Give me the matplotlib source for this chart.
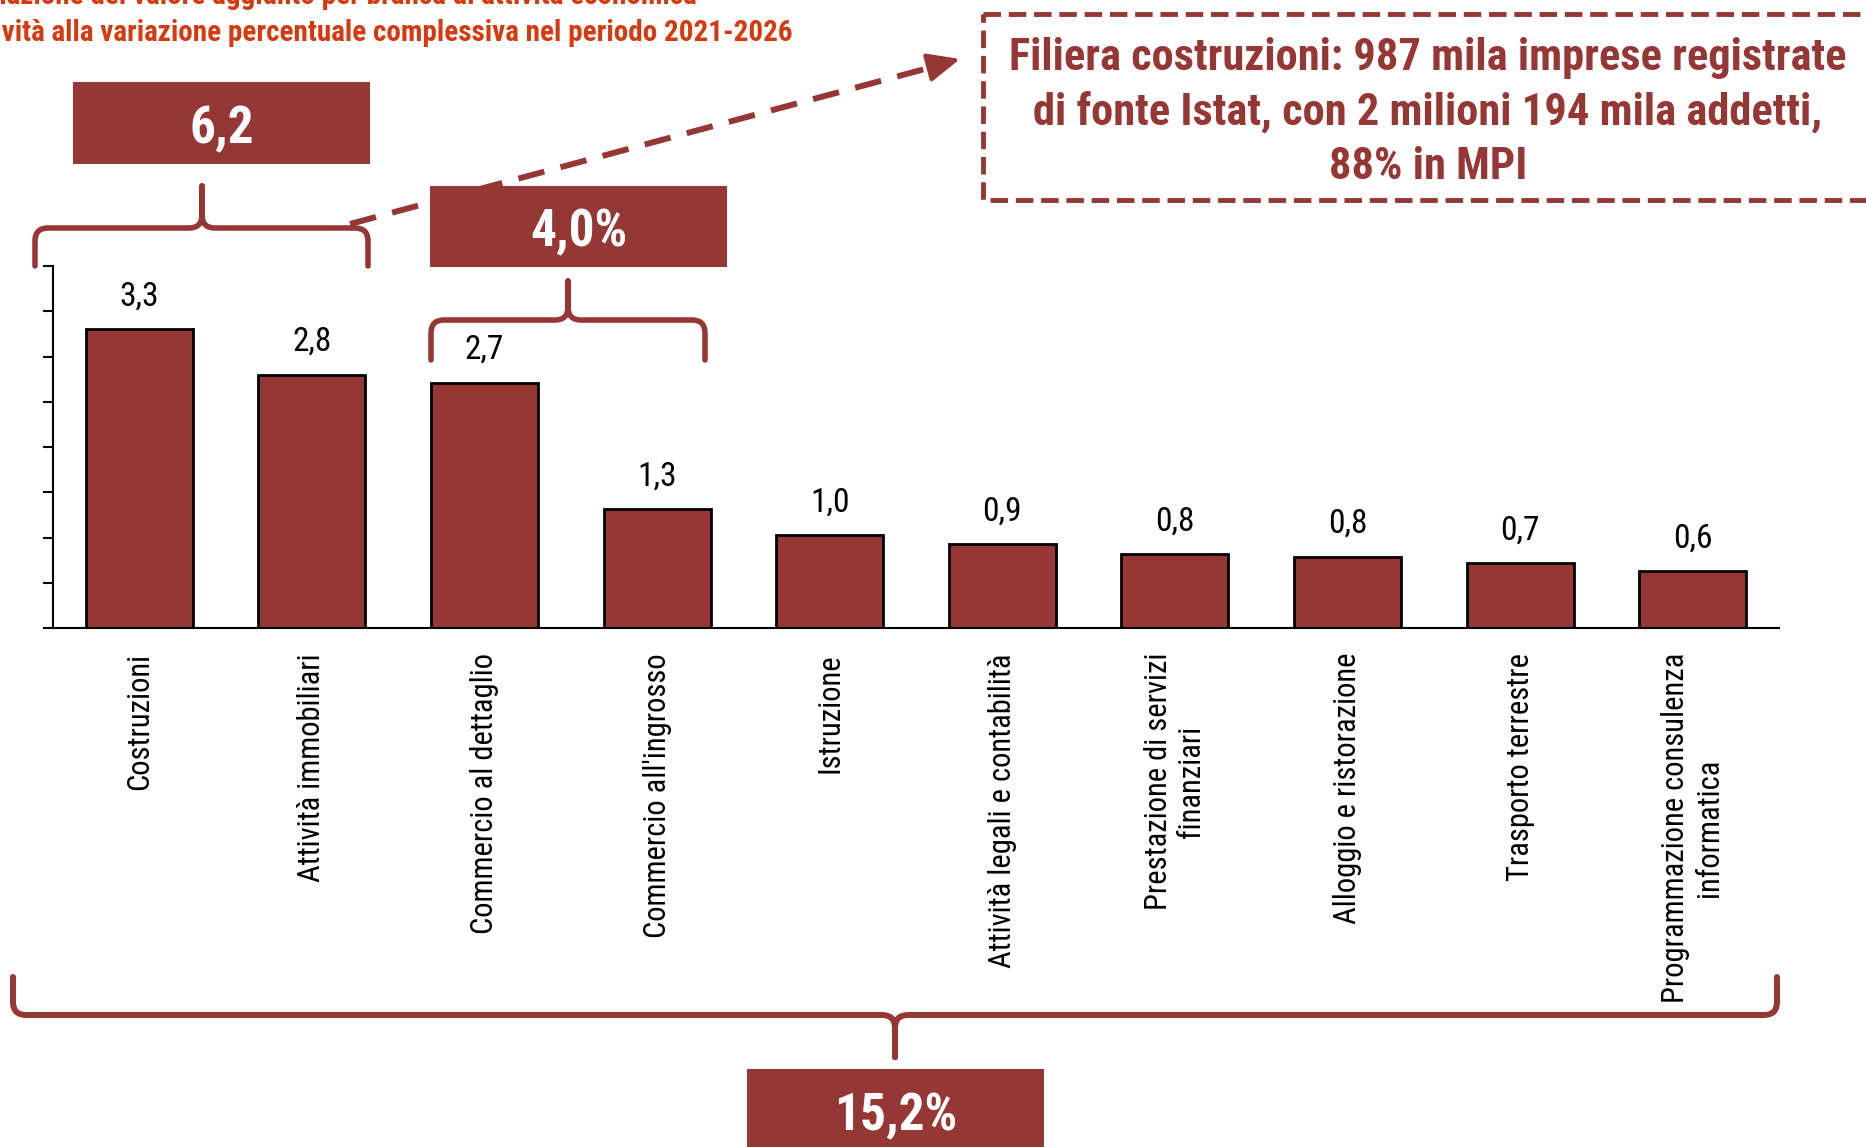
import numpy as np
import matplotlib
matplotlib.use('Agg')
import matplotlib.pyplot as plt
from matplotlib.path import Path
from matplotlib.patches import PathPatch, Rectangle

W, H = 1866, 1147
RED = '#953735'
ORANGE = '#D43A0F'

categories = ['Costruzioni', 'Attività immobiliari', 'Commercio al dettaglio',
              "Commercio all'ingrosso", 'Istruzione', 'Attività legali e contabilità',
              'Prestazione di servizi\nfinanziari', 'Alloggio e ristorazione',
              'Trasporto terrestre', 'Programmazione consulenza\ninformatica']
values = [3.30, 2.80, 2.71, 1.31, 1.03, 0.93, 0.82, 0.79, 0.72, 0.63]
group_totals = ['6,2', '4,0%', '15,2%']
title_lines = ['Variazione del valore aggiunto per branca di attività economica',
               'Contributo delle attività alla variazione percentuale complessiva nel periodo 2021-2026']
note_lines = ['Filiera costruzioni: 987 mila imprese registrate',
              'di fonte Istat, con 2 milioni 194 mila addetti,',
              '88% in MPI']

plt.rcParams['font.family'] = ['Roboto Condensed', 'DejaVu Sans']

fig = plt.figure(figsize=(W / 100, H / 100), dpi=100)
ax = fig.add_axes([53 / W, 1 - 628 / H, (1779 - 53) / W, (628 - 266) / H])
x = np.arange(len(categories))
ax.bar(x, values, width=0.62, color=RED, edgecolor='black', linewidth=2, zorder=2)
ax.set_xlim(-0.5, len(categories) - 0.5)
ax.set_ylim(0, 4)
ax.set_yticks(np.arange(0, 4.01, 0.5))
ax.set_yticklabels([])
ax.tick_params(axis='y', length=7, width=1.5, direction='out')
ax.set_xticks(x)
ax.set_xticklabels(categories, rotation=90, fontsize=22)
ax.tick_params(axis='x', length=0, pad=18)
for s in ['top', 'right']:
    ax.spines[s].set_visible(False)
for s in ['left', 'bottom']:
    ax.spines[s].set_linewidth(1.5)

# etichette valori sopra le barre
for xi, v in zip(x, values):
    ax.annotate(f'{v:.1f}'.replace('.', ','), (xi, v), xytext=(0, 17),
                textcoords='offset points', ha='center', va='baseline', fontsize=24)

# livello sovrapposto in pixel per parentesi, riquadri e freccia
ov = fig.add_axes([0, 0, 1, 1], zorder=5)
ov.set_xlim(0, W)
ov.set_ylim(H, 0)
ov.axis('off')


def brace(x0, x1, xc, y_end, y_line, y_tip, r=13, lw=4):
    s = 1 if y_end > y_line else -1
    verts = [(x0, y_end), (x0, y_line + s * r), (x0, y_line), (x0 + r, y_line),
             (xc - r, y_line), (xc, y_line), (xc, y_line - s * r), (xc, y_tip),
             (xc, y_line - s * r), (xc, y_line), (xc + r, y_line),
             (x1 - r, y_line), (x1, y_line), (x1, y_line + s * r), (x1, y_end)]
    codes = [Path.MOVETO, Path.LINETO, Path.CURVE3, Path.CURVE3, Path.LINETO,
             Path.CURVE3, Path.CURVE3, Path.LINETO, Path.LINETO, Path.CURVE3,
             Path.CURVE3, Path.LINETO, Path.CURVE3, Path.CURVE3, Path.LINETO]
    ov.add_patch(PathPatch(Path(verts, codes), fill=False, ec=RED, lw=lw,
                           capstyle='round', joinstyle='round'))


def box(x0, y0, w, h, text, baseline):
    ov.add_patch(Rectangle((x0, y0), w, h, color=RED, lw=0))
    ov.text(x0 + w / 2, baseline, text, ha='center', va='baseline', color='white',
            fontsize=37, fontweight='bold')


brace(35, 368, 202, 266, 228, 186)
brace(431, 705, 568, 360, 320, 281)
brace(13, 1777, 895, 977, 1015, 1057, lw=4.3)

box(73, 82, 297, 82, group_totals[0], 143)
box(430, 186, 297, 81, group_totals[1], 246)
box(747, 1069, 297, 100, group_totals[2], 1130)

# freccia tratteggiata verso il riquadro
ov.plot([350, 936], [224, 66], color=RED, lw=4.3, dashes=(4.5, 2.8),
        dash_capstyle='butt')
ov.annotate('', xy=(960, 59), xytext=(930, 67),
            arrowprops=dict(arrowstyle='-|>,head_length=0.9,head_width=0.4',
                            color=RED, lw=3, mutation_scale=22, shrinkA=0, shrinkB=0))

ov.add_patch(Rectangle((983, 14), 1000, 186, fill=False, ec=RED, lw=3.5,
                       linestyle=(0, (3.6, 1.6))))
for line, yb in zip(note_lines, [70, 125, 179]):
    ov.text(1428, yb, line, ha='center', va='baseline', color=RED,
            fontsize=32, fontweight='bold')

# titolo (tagliato sul bordo)
ov.text(697, 4, title_lines[0], ha='right', va='baseline', color=ORANGE,
        fontsize=21, fontweight='bold')
ov.text(793, 41, title_lines[1], ha='right', va='baseline', color=ORANGE,
        fontsize=21, fontweight='bold')

fig.savefig('out.png', dpi=100)
